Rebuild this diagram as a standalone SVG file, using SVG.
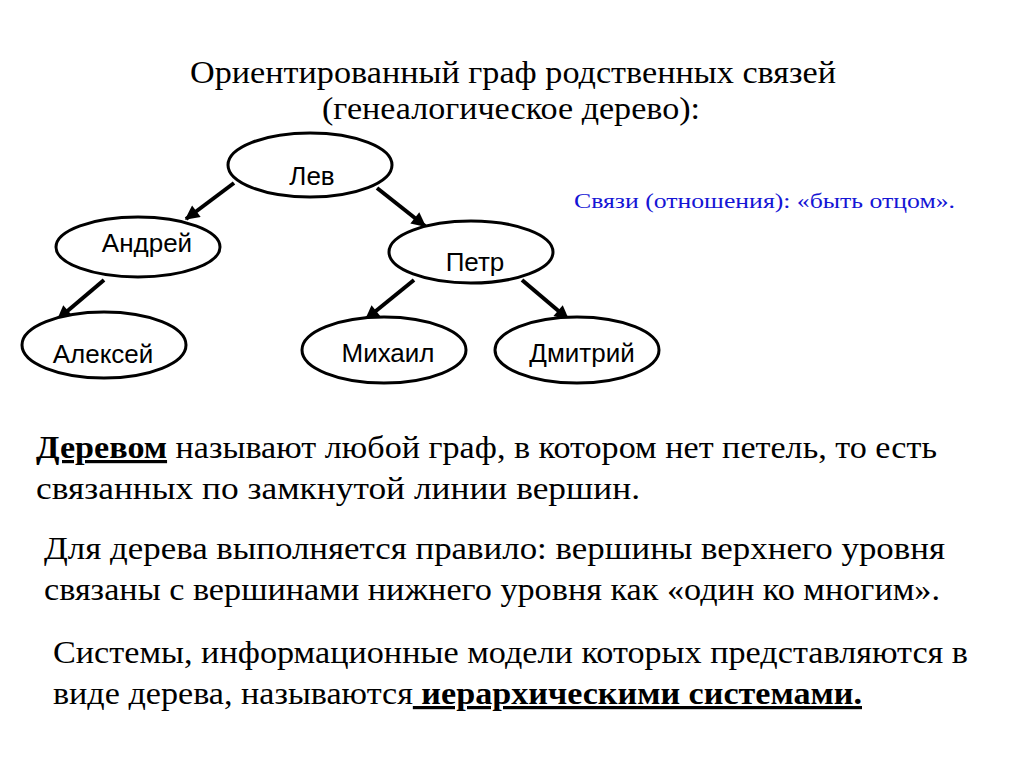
<svg xmlns="http://www.w3.org/2000/svg" width="1024" height="767" viewBox="0 0 1024 767">
<defs>
<marker id="ah" viewBox="0 0 10 10" refX="9" refY="5" markerWidth="4" markerHeight="3.6" orient="auto" markerUnits="strokeWidth">
<path d="M0,0 L10,5 L0,10 Z" fill="#000"/>
</marker>
<style>
.node ellipse{fill:#fff;stroke:#000;stroke-width:3}
.node text{font-family:"Liberation Sans",Arial,sans-serif;font-size:26px;fill:#000;text-anchor:middle}
.edge{stroke:#000;stroke-width:4;fill:none;marker-end:url(#ah)}
.t{font-family:"Liberation Serif","Times New Roman",serif;fill:#000}
.body{font-size:32px}
.b{font-weight:bold}
</style>
</defs>
<rect width="1024" height="767" fill="#fff"/>
<text class="t" x="513" y="83" font-size="32" text-anchor="middle" textLength="646" lengthAdjust="spacingAndGlyphs">Ориентированный граф родственных связей</text>
<text class="t" x="511" y="119" font-size="32" text-anchor="middle" textLength="378" lengthAdjust="spacingAndGlyphs">(генеалогическое дерево):</text>
<text class="t" x="574" y="208" font-size="20" style="fill:#1515d5" textLength="381" lengthAdjust="spacingAndGlyphs">Связи (отношения): «быть отцом».</text>
<g id="connectors">
<line class="edge" x1="234" y1="183" x2="186" y2="219"/>
<line class="edge" x1="377" y1="188" x2="425" y2="226"/>
<line class="edge" x1="104" y1="280" x2="58" y2="319"/>
<line class="edge" x1="414" y1="280" x2="366" y2="319"/>
<line class="edge" x1="522" y1="280" x2="568" y2="319"/>
</g>
<g id="n-lev" class="node"><ellipse cx="310" cy="165" rx="82" ry="32"/><text x="312" y="185">Лев</text></g>
<g id="n-andrey" class="node"><ellipse cx="138" cy="247" rx="82" ry="30"/><text x="147" y="252">Андрей</text></g>
<g id="n-petr" class="node"><ellipse cx="471" cy="252" rx="82" ry="31"/><text x="475" y="271">Петр</text></g>
<g id="n-aleksey" class="node"><ellipse cx="104" cy="345" rx="82" ry="33"/><text x="103" y="363">Алексей</text></g>
<g id="n-mikhail" class="node"><ellipse cx="384" cy="350" rx="82" ry="33"/><text x="388" y="362">Михаил</text></g>
<g id="n-dmitry" class="node"><ellipse cx="577" cy="350" rx="82" ry="33"/><text x="582" y="362">Дмитрий</text></g>
<text class="t body" x="36" y="458" textLength="901" lengthAdjust="spacingAndGlyphs"><tspan class="b" text-decoration="underline">Деревом</tspan> называют любой граф, в котором нет петель, то есть</text>
<text class="t body" x="36" y="499" textLength="604" lengthAdjust="spacingAndGlyphs">связанных по замкнутой линии вершин.</text>
<text class="t body" x="44" y="559" textLength="901" lengthAdjust="spacingAndGlyphs">Для дерева выполняется правило: вершины верхнего уровня</text>
<text class="t body" x="44" y="600" textLength="896" lengthAdjust="spacingAndGlyphs">связаны с вершинами нижнего уровня как «один ко многим».</text>
<text class="t body" x="53" y="663" textLength="915" lengthAdjust="spacingAndGlyphs">Системы, информационные модели которых представляются в</text>
<text class="t body" x="53" y="704" textLength="809" lengthAdjust="spacingAndGlyphs">виде дерева, называются<tspan class="b" text-decoration="underline"> иерархическими системами.</tspan></text>
</svg>
